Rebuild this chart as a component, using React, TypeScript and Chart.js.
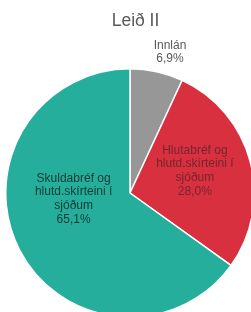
import React, { useEffect, useRef } from "react";
import { Chart, registerables } from "chart.js";

Chart.register(...registerables);

const titleText = "Leið II";
const categories = [
  ["Innlán"],
  ["Hlutabréf og", "hlutd.skírteini í", "sjóðum"],
  ["Skuldabréf og", "hlutd.skírteini í", "sjóðum"],
];
const values = [6.9, 28.0, 65.1];
const sliceColors = ["#979797", "#d9303f", "#26ae9c"];
const labelColors = ["#595959", "#74262f", "#123a34"];
// label placement relative to each arc: radius factor (of outer radius), extra px, offsets
const labelRadiusFactor = [1, 0.54, 0.51];
const labelRadiusExtra = [20, 0, 0];
const labelOffsetX = [9, 0, 0];
const labelOffsetY = [0, -5, -23];

const fmt = (v: number) => v.toFixed(1).replace(".", ",") + "%";

const labelPlugin = {
  id: "sliceLabels",
  afterDatasetsDraw(chart: any) {
    const ctx = chart.ctx;
    const meta = chart.getDatasetMeta(0);
    const area = chart.chartArea;
    ctx.save();
    ctx.font = '17.5px "Liberation Sans", Arial, sans-serif';
    ctx.fillStyle = "#595959";
    ctx.textAlign = "center";
    ctx.textBaseline = "middle";
    ctx.fillText(titleText, (area.left + area.right) / 2 + 5.5, 21.5);

    ctx.font = '12px "Liberation Sans", Arial, sans-serif';
    const lh = 13.8;
    meta.data.forEach((arc: any, i: number) => {
      const p = arc.getProps(["x", "y", "startAngle", "endAngle", "outerRadius"], true);
      const mid = (p.startAngle + p.endAngle) / 2;
      const rr = p.outerRadius * labelRadiusFactor[i] + labelRadiusExtra[i];
      const x = p.x + Math.cos(mid) * rr + labelOffsetX[i];
      const y = p.y + Math.sin(mid) * rr + labelOffsetY[i];
      const lines = [...categories[i], fmt(values[i])];
      const top = y - ((lines.length - 1) * lh) / 2;
      ctx.fillStyle = labelColors[i];
      lines.forEach((ln, k) => ctx.fillText(ln, x, top + k * lh));
    });
    ctx.restore();
  },
};

export default function App() {
  const ref = useRef<HTMLCanvasElement | null>(null);
  useEffect(() => {
    if (!ref.current) return;
    const chart = new Chart(ref.current, {
      type: "pie",
      data: {
        labels: categories.map((c) => c.join(" ")),
        datasets: [
          {
            data: values,
            backgroundColor: sliceColors,
            borderColor: "#ffffff",
            borderWidth: 1.5,
          },
        ],
      },
      options: {
        responsive: false,
        animation: false,
        layout: { padding: { top: 68, bottom: 12, left: 0, right: 0 } },
        plugins: {
          legend: { display: false },
          title: { display: false },
          tooltip: { enabled: false },
        },
      },
      plugins: [labelPlugin],
    });
    return () => chart.destroy();
  }, []);
  return (
    <div
      style={{
        position: "fixed",
        left: 0,
        top: 0,
        width: 251,
        height: 312,
        overflow: "hidden",
        background: "#ffffff",
      }}
    >
      <canvas
        ref={ref}
        width={250}
        height={330}
        style={{ position: "absolute", left: 5, top: 0, width: 250, height: 330 }}
      />
    </div>
  );
}
